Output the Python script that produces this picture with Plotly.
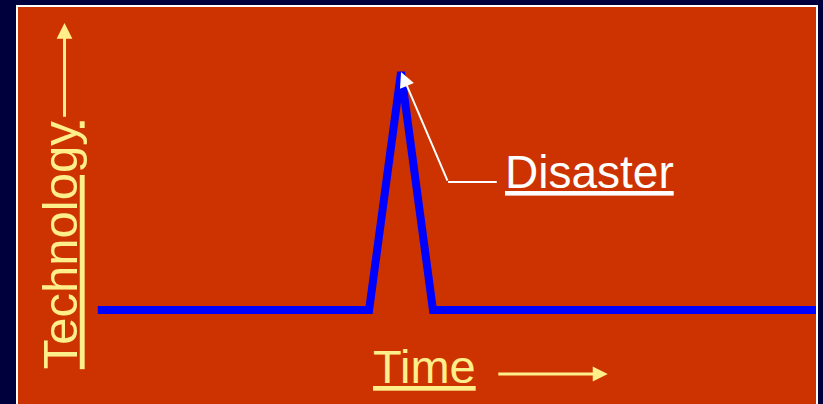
import plotly.graph_objects as go

# Technology level over time: flat, one sharp spike, then flat again
time = [10, 44, 48, 52, 100]
technology = [23.7, 23.7, 83.6, 23.7, 23.7]
peak = technology.index(max(technology))

# Label texts
y_label = "Technology"
x_label = "Time"
event_label = "Disaster"

NAVY = "#00003C"
ORANGE = "#CC3300"
YELLOW = "#FFEF8A"
BLUE = "#0000FF"
FONT = "Liberation Sans, Arial, sans-serif"

fig = go.Figure()
fig.add_trace(go.Scatter(
    x=time, y=technology, mode="lines",
    line=dict(color=BLUE, width=8),
    hoverinfo="skip", showlegend=False,
))

annotations = [
    # rotated y-axis label
    dict(x=5.26, y=40.0, text=f"<u>{y_label}</u>", textangle=-90,
         showarrow=False, xanchor="center", yanchor="middle",
         font=dict(family=FONT, size=49, color=YELLOW)),
    # x-axis label
    dict(x=51.0, y=9.4, text=f"<u>{x_label}</u>",
         showarrow=False, xanchor="center", yanchor="middle",
         font=dict(family=FONT, size=47, color=YELLOW)),
    # callout label
    dict(x=71.6, y=58.5, text=f"<u>{event_label}</u>",
         showarrow=False, xanchor="center", yanchor="middle",
         font=dict(family=FONT, size=46, color="white")),
    # upward arrow along the technology axis
    dict(x=5.83, y=96.0, ax=5.83, ay=72.0, axref="x", ayref="y",
         text="", showarrow=True, arrowhead=2, arrowwidth=3, arrowsize=1.05,
         arrowcolor=YELLOW, standoff=0),
    # rightward arrow along the time axis
    dict(x=73.9, y=7.56, ax=60.0, ay=7.56, axref="x", ayref="y",
         text="", showarrow=True, arrowhead=2, arrowwidth=3, arrowsize=1.0,
         arrowcolor=YELLOW, standoff=0),
    # callout arrow pointing at the spike
    dict(x=time[peak], y=technology[peak], ax=53.9, ay=55.9, axref="x", ayref="y",
         text="", showarrow=True, arrowhead=2, arrowwidth=2, arrowsize=1.5,
         arrowcolor="white", standoff=0),
]

shapes = [
    # white frame around the panel
    dict(type="rect", xref="paper", yref="paper",
         x0=-0.00125, x1=1.00125, y0=-0.1, y1=1.0025,
         line=dict(color="white", width=2), fillcolor="rgba(0,0,0,0)",
         layer="above"),
    # horizontal leg of the callout
    dict(type="line", xref="x", yref="y", x0=53.9, x1=60.0, y0=55.9, y1=55.9,
         line=dict(color="white", width=2)),
]

fig.update_layout(
    width=823, height=404,
    margin=dict(l=18, r=7, t=7, b=0),
    paper_bgcolor=NAVY, plot_bgcolor=ORANGE,
    xaxis=dict(range=[0, 100], visible=False, fixedrange=True),
    yaxis=dict(range=[0, 100], visible=False, fixedrange=True),
    annotations=annotations, shapes=shapes,
    showlegend=False,
)

fig.write_html("out.html", config={"displayModeBar": False})
